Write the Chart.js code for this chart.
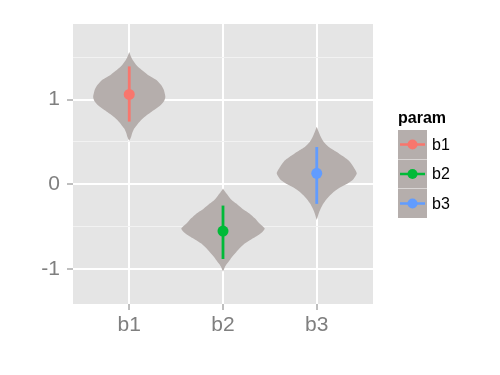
<!DOCTYPE html>
<html>
<head>
<meta charset="utf-8">
<script src="https://cdn.jsdelivr.net/npm/chart.js@4.4.1/dist/chart.umd.min.js"></script>
<style>
  html, body { margin: 0; padding: 0; background: #ffffff; }
  #wrap { width: 500px; height: 375px; }
</style>
</head>
<body>
<div id="wrap"><canvas id="chart" width="500" height="375"></canvas></div>
<script>
// parameters and their posterior summaries
const params = ['b1', 'b2', 'b3'];
const estimates = [1.06, -0.55, 0.13];
const lower = [0.74, -0.88, -0.23];
const upper = [1.39, -0.25, 0.44];

// axis ticks
const yTicks = [-1, 0, 1];
const yMinorTicks = [-0.5, 0.5, 1.5];

// violin outlines: density level (y) and half width (in category units)
const violinB1Y = [1.56, 1.50, 1.46, 1.40, 1.35, 1.29, 1.23, 1.17, 1.11, 1.03, 0.98, 0.93, 0.85, 0.80, 0.75, 0.66, 0.60, 0.56, 0.51];
const violinB1W = [0, 0.02, 0.04, 0.08, 0.13, 0.20, 0.29, 0.34, 0.37, 0.385, 0.37, 0.33, 0.23, 0.17, 0.12, 0.055, 0.03, 0.02, 0];
const violinB2Y = [-0.05, -0.10, -0.13, -0.18, -0.227, -0.29, -0.345, -0.40, -0.462, -0.521, -0.56, -0.60, -0.65, -0.698, -0.75, -0.796, -0.85, -0.894, -0.94, -0.973, -1.03];
const violinB2W = [0, 0.03, 0.053, 0.09, 0.142, 0.21, 0.285, 0.34, 0.39, 0.445, 0.42, 0.373, 0.30, 0.231, 0.18, 0.142, 0.10, 0.071, 0.04, 0.02, 0];
const violinB3Y = [0.68, 0.62, 0.562, 0.50, 0.444, 0.39, 0.327, 0.27, 0.209, 0.13, 0.05, 0.01, -0.031, -0.08, -0.129, -0.18, -0.227, -0.29, -0.345, -0.42];
const violinB3W = [0, 0.02, 0.043, 0.075, 0.125, 0.20, 0.285, 0.35, 0.39, 0.427, 0.383, 0.33, 0.258, 0.19, 0.142, 0.10, 0.071, 0.04, 0.02, 0];

const colors = ['#F8766D', '#00BA38', '#619CFF'];
const violinFill = '#B5AEAC';
const panelBg = '#E5E5E5';
const axisGrey = '#7F7F7F';

function outline(center, ys, ws) {
    const right = ys.map((y, i) => ({x: center + ws[i], y: y}));
    const left = ys.map((y, i) => ({x: center - ws[i], y: y})).reverse();
    return right.concat(left);
}

const violins = [
    outline(1, violinB1Y, violinB1W),
    outline(2, violinB2Y, violinB2W),
    outline(3, violinB3Y, violinB3W)
];

const datasets = [];
params.forEach((p, i) => {
    datasets.push({
        label: p + ' violin',
        data: violins[i],
        showLine: true,
        fill: 'shape',
        backgroundColor: violinFill,
        borderWidth: 0,
        borderColor: 'rgba(0,0,0,0)',
        pointRadius: 0,
        tension: 0.2,
        order: 3
    });
    datasets.push({
        label: p + ' range',
        data: [{x: i + 1, y: lower[i]}, {x: i + 1, y: upper[i]}],
        showLine: true,
        borderColor: colors[i],
        borderWidth: 2.8,
        pointRadius: 0,
        order: 2
    });
    datasets.push({
        label: p,
        data: [{x: i + 1, y: estimates[i]}],
        backgroundColor: colors[i],
        borderWidth: 0,
        pointRadius: 5.5,
        order: 1
    });
});

const panelPlugin = {
    id: 'panel',
    beforeDraw(chart) {
        const a = chart.chartArea;
        const ctx = chart.ctx;
        ctx.save();
        ctx.fillStyle = panelBg;
        ctx.fillRect(a.left, a.top, a.right - a.left, a.bottom - a.top);
        ctx.restore();
    }
};

// ggplot-style legend with grey keys
const legendPlugin = {
    id: 'ggLegend',
    afterDraw(chart) {
        const ctx = chart.ctx;
        const x0 = chart.chartArea.right + 25;
        const top = 130;
        const key = 29;
        ctx.save();
        ctx.fillStyle = '#000000';
        ctx.font = 'bold 16px "Liberation Sans", Arial, sans-serif';
        ctx.textBaseline = 'alphabetic';
        ctx.textAlign = 'left';
        ctx.fillText('param', x0, 123);
        params.forEach((p, i) => {
            const y = top + i * (key + 0.5);
            ctx.fillStyle = violinFill;
            ctx.fillRect(x0, y, key, key);
            const cy = y + key / 2;
            ctx.strokeStyle = colors[i];
            ctx.lineWidth = 2.5;
            ctx.beginPath();
            ctx.moveTo(x0 + 2, cy);
            ctx.lineTo(x0 + key - 2, cy);
            ctx.stroke();
            ctx.fillStyle = colors[i];
            ctx.beginPath();
            ctx.arc(x0 + key / 2, cy, 5, 0, Math.PI * 2);
            ctx.fill();
            ctx.fillStyle = '#000000';
            ctx.font = '16px "Liberation Sans", Arial, sans-serif';
            ctx.textBaseline = 'middle';
            ctx.fillText(p, x0 + key + 5, cy + 1);
        });
        ctx.restore();
    }
};

new Chart(document.getElementById('chart'), {
    type: 'scatter',
    data: { datasets: datasets },
    options: {
        responsive: false,
        animation: false,
        layout: { padding: { left: 33, top: 24, right: 127, bottom: 31 } },
        plugins: {
            legend: { display: false },
            tooltip: { enabled: false }
        },
        scales: {
            x: {
                type: 'linear',
                min: 0.4,
                max: 3.6,
                afterBuildTicks: (scale) => {
                    scale.ticks = params.map((p, i) => ({value: i + 1}));
                },
                afterFit: (scale) => { scale.height = 40; },
                border: { display: false },
                grid: {
                    color: '#ffffff',
                    lineWidth: 2,
                    tickColor: axisGrey,
                    tickLength: 6,
                    tickWidth: 1
                },
                ticks: {
                    color: axisGrey,
                    padding: 3,
                    font: { family: '"Liberation Sans", Arial, sans-serif', size: 21 },
                    callback: (v) => params[Math.round(v) - 1]
                }
            },
            y: {
                type: 'linear',
                min: -1.41,
                max: 1.89,
                afterBuildTicks: (scale) => {
                    scale.ticks = yTicks.concat(yMinorTicks).sort((a, b) => a - b).map(v => ({value: v}));
                },
                afterFit: (scale) => { scale.width = 40; },
                border: { display: false },
                grid: {
                    color: (c) => yTicks.includes(c.tick.value) ? '#ffffff' : '#F2F2F2',
                    lineWidth: (c) => yTicks.includes(c.tick.value) ? 2 : 1,
                    tickColor: (c) => yTicks.includes(c.tick.value) ? axisGrey : 'rgba(0,0,0,0)',
                    tickLength: 6,
                    tickWidth: 1
                },
                ticks: {
                    color: axisGrey,
                    padding: 7,
                    font: { family: '"Liberation Sans", Arial, sans-serif', size: 21 },
                    callback: (v) => yTicks.includes(v) ? String(v) : ''
                }
            }
        }
    },
    plugins: [panelPlugin, legendPlugin]
});
</script>
</body>
</html>
